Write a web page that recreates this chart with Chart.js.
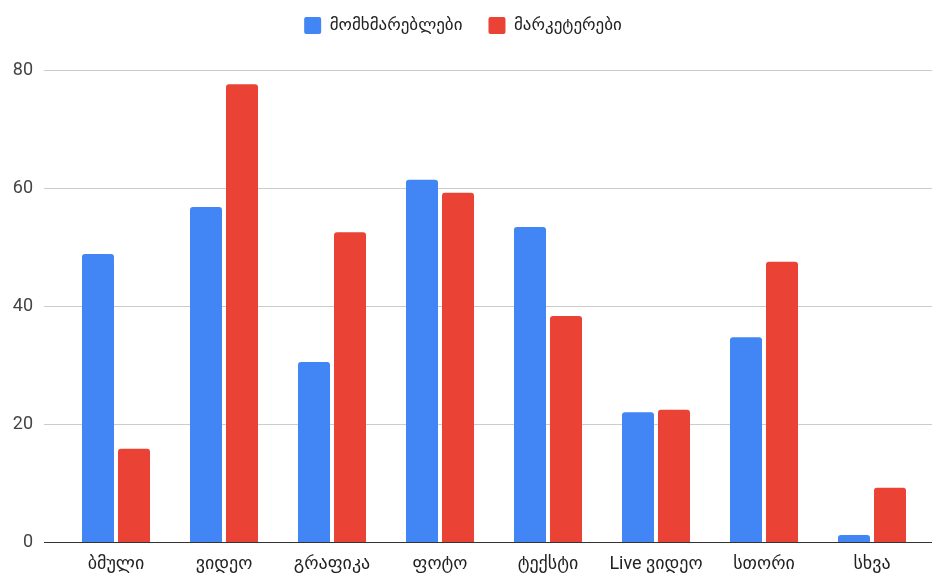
<!DOCTYPE html>
<html>
<head>
<meta charset="utf-8">
<script src="https://cdn.jsdelivr.net/npm/chart.js@4/dist/chart.umd.min.js"></script>
<style>
  html, body { margin: 0; padding: 0; background: #ffffff; }
  #wrap { width: 933px; height: 576px; position: relative; }
</style>
</head>
<body>
<div id="wrap"><canvas id="c" width="933" height="576"></canvas></div>
<script>
// Content types on the x axis
const categories = ['ბმული', 'ვიდეო', 'გრაფიკა', 'ფოტო', 'ტექსტი', 'Live ვიდეო', 'სთორი', 'სხვა'];
// Series names
const seriesNames = ['მომხმარებლები', 'მარკეტერები'];
// Values per series
const usersValues = [48.8, 56.8, 30.5, 61.4, 53.4, 22.0, 34.7, 1.2];
const marketersValues = [15.8, 77.6, 52.5, 59.2, 38.3, 22.4, 47.5, 9.2];
// Y axis ticks
const yTicks = [0, 20, 40, 60, 80];

const FONT = "Roboto, 'DejaVu Sans', sans-serif";

// Horizontal gridlines that run a little past the plot area on both sides
const wideGrid = {
  id: 'wideGrid',
  beforeDatasetsDraw(chart) {
    const { ctx } = chart;
    const y = chart.scales.y;
    const x0 = 44, x1 = 932;
    ctx.save();
    yTicks.forEach(v => {
      const py = Math.round(y.getPixelForValue(v)) + 0.5;
      ctx.beginPath();
      ctx.strokeStyle = v === 0 ? '#333333' : '#cccccc';
      ctx.lineWidth = 1;
      ctx.moveTo(x0, py);
      ctx.lineTo(x1, py);
      ctx.stroke();
    });
    ctx.restore();
  }
};

// Extra space between the legend and the plot
const legendGap = {
  id: 'legendGap',
  beforeInit(chart) {
    const fit = chart.legend.fit;
    chart.legend.fit = function () {
      fit.call(this);
      this.height += 26;
    };
  }
};

new Chart(document.getElementById('c'), {
  type: 'bar',
  data: {
    labels: categories,
    datasets: [
      {
        label: seriesNames[0],
        data: usersValues,
        backgroundColor: '#4285F4',
        borderRadius: { topLeft: 3, topRight: 3 },
        borderSkipped: 'start'
      },
      {
        label: seriesNames[1],
        data: marketersValues,
        backgroundColor: '#EA4335',
        borderRadius: { topLeft: 3, topRight: 3 },
        borderSkipped: 'start'
      }
    ]
  },
  options: {
    responsive: false,
    animation: false,
    devicePixelRatio: 1,
    categoryPercentage: 0.667,
    barPercentage: 0.889,
    layout: { padding: { left: 0, right: 7, top: -9, bottom: 0 } },
    plugins: {
      legend: {
        position: 'top',
        labels: {
          boxWidth: 17,
          boxHeight: 17,
          useBorderRadius: true,
          borderRadius: 2,
          padding: 26,
          color: '#222222',
          font: { family: FONT, size: 17 }
        }
      },
      tooltip: { enabled: false }
    },
    scales: {
      x: {
        afterFit(scale) { scale.height = 34; },
        grid: { display: false, drawTicks: false },
        border: { display: false },
        ticks: {
          color: '#222222',
          padding: 12,
          font: { family: FONT, size: 18 }
        }
      },
      y: {
        min: 0,
        max: 80,
        afterBuildTicks(scale) { scale.ticks = yTicks.map(v => ({ value: v })); },
        afterFit(scale) {
          scale.width = 62;
          scale.paddingTop = 11;
          scale.paddingBottom = 11;
        },
        grid: { display: false, drawTicks: false },
        border: { display: false },
        ticks: {
          color: '#444444',
          padding: 29,
          font: { family: FONT, size: 18 }
        }
      }
    }
  },
  plugins: [wideGrid, legendGap]
});
</script>
</body>
</html>
